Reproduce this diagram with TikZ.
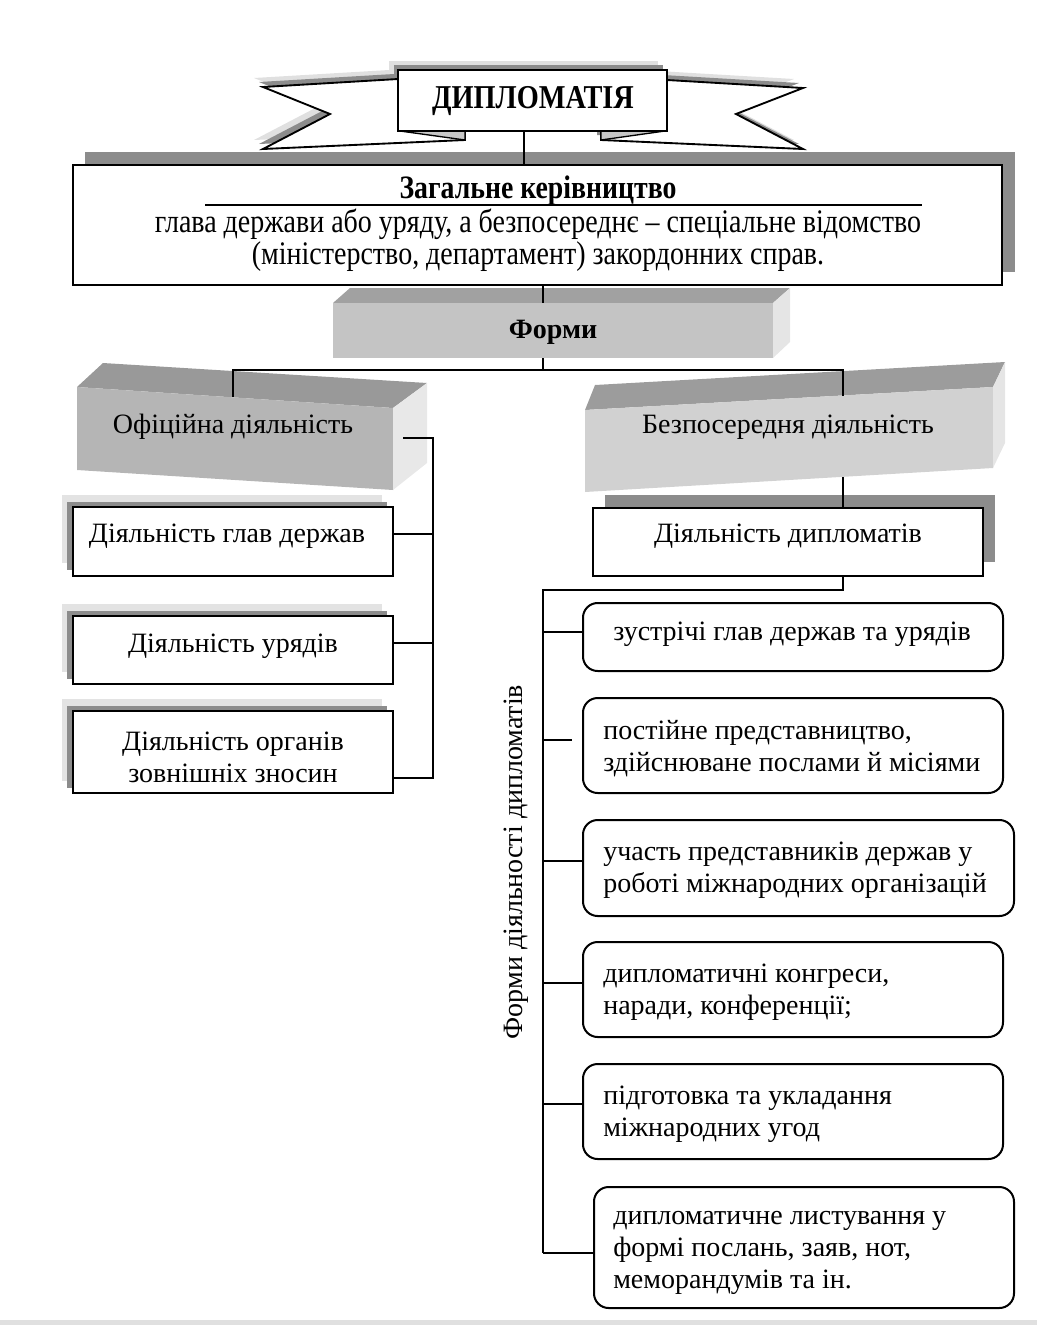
\documentclass[tikz,border=0pt]{standalone}
\usepackage{fontspec}
\setmainfont{Liberation Serif}
\newfontfamily\narrowfont[FakeStretch=0.85]{Liberation Serif}
\usetikzlibrary{fit}
\begin{document}
\begin{tikzpicture}[x=0.75pt,y=-0.75pt,
  wbox/.style={draw, fill=white, line width=1.5pt, inner sep=0pt},
  rbox/.style={wbox, rounded corners=11pt},
  conn/.style={draw, line width=1.3pt},
  txt/.style={font=\fontsize{21}{24}\selectfont, inner sep=0pt},
  ltxt/.style={txt, align=left, anchor=west},
  ctxt/.style={txt, align=center},
  shdark/.style={fill=black!45},
  shlight/.style={fill=black!11},
  face/.style={inner sep=0pt},
]
\useasboundingbox (0,0) rectangle (1037,1325);
\fill[black!12] (0,1320) rectangle (1037,1325);

% ---------- banner ----------
\foreach \dx/\dy/\col in {-9/-9/black!12, -4/-5/black!45} {
  \fill[\col, shift={(\dx,\dy)}] (398,79) -- (263,87) -- (330,114) -- (263,149) -- (465,140) -- (465,131) -- (398,131) -- cycle;
  \fill[\col, shift={(\dx,\dy)}] (667,80) -- (803,88) -- (736,114) -- (803,149) -- (601,140) -- (601,131) -- (667,131) -- cycle;
  \fill[\col, shift={(\dx,\dy)}] (398,70) rectangle (667,131);
}
\draw[fill=white, line width=1.4pt, line join=miter] (398,79) -- (263,87) -- (330,114) -- (263,149) -- (465,140) -- (465,131) -- (398,131) -- cycle;
\draw[fill=white, line width=1.4pt, line join=miter] (667,80) -- (803,88) -- (736,114) -- (803,149) -- (601,140) -- (601,131) -- (667,131) -- cycle;
\draw[fill=black!22, line width=1pt] (400,131) -- (465,131) -- (465,140) -- cycle;
\draw[fill=black!22, line width=1pt] (665,131) -- (601,131) -- (601,140) -- cycle;
\node[wbox, fit={(398,70)(667,131)}] (banner) {};
\node[txt, font=\narrowfont\bfseries\fontsize{25}{28}\selectfont] (bannert) at (533,101) {ДИПЛОМАТІЯ};

% ---------- main box ----------
\fill[shdark] (85,152) rectangle (1015,272);
\node[wbox, fit={(73,165)(1002,285)}] (main) {};
\node[txt, font=\narrowfont\bfseries\fontsize{24.5}{28}\selectfont] (mt1) at (538,191) {Загальне керівництво};
\draw[line width=1.3pt] (205,205) -- (922,205);
\node[ctxt, font=\narrowfont\fontsize{24.7}{24}\selectfont] (mt2) at (538,240) {глава держави або уряду, а безпосереднє – спеціальне відомство\\(міністерство, департамент) закордонних справ.};
\draw[conn] ([xshift=-6.4pt]banner.south) -- ([xshift=-6.4pt]banner.south |- main.north);

% ---------- Форми ----------
\fill[black!37] (333,303) -- (350,288) -- (790,288) -- (773,303) -- cycle;
\fill[black!10] (773,303) -- (790,288) -- (790,342) -- (773,358) -- cycle;
\node[face, fill=black!23, fit={(333,303)(773,358)}] (formy) {};
\node[txt, font=\bfseries\fontsize{21}{24}\selectfont] (formyt) at (553,332) {Форми};
\coordinate (cx) at (543,0);
\draw[conn] (main.south -| cx) -- (formy.north -| cx);

% ---------- Офіційна діяльність ----------
\fill[black!40] (77,387) -- (103,363) -- (427,383) -- (393,408) -- cycle;
\fill[black!29] (77,387) -- (393,408) -- (393,490) -- (77,470) -- cycle;
\fill[black!9] (393,408) -- (427,383) -- (427,463) -- (393,490) -- cycle;
\node[txt] (offt) at (233,427) {Офіційна діяльність};

% ---------- Безпосередня діяльність ----------
\fill[black!39] (585,410) -- (595,385) -- (1005,362) -- (993,387) -- cycle;
\fill[black!18] (585,410) -- (993,387) -- (993,468) -- (585,492) -- cycle;
\fill[black!10] (993,387) -- (1005,362) -- (1005,443) -- (993,468) -- cycle;
\node[txt] (bezt) at (788,427) {Безпосередня діяльність};

\coordinate (hj) at (543,370);
\coordinate (offin) at (233,397);
\coordinate (bezin) at (843,396);
\draw[conn] (formy.south -| cx) -- (hj);
\draw[conn] (offin) |- (hj) -| (bezin);

% ---------- left boxes ----------
\fill[shlight] (62,495) rectangle (382,563);
\fill[shdark] (67,502) rectangle (387,570);
\node[wbox, fit={(73,507)(393,576)}] (b1) {};
\node[txt] (b1t) at (227,536) {Діяльність глав держав};

\fill[shlight] (62,604) rectangle (382,672);
\fill[shdark] (67,611) rectangle (387,679);
\node[wbox, fit={(73,616)(393,684)}] (b2) {};
\node[txt] (b2t) at (233,646) {Діяльність урядів};

\fill[shlight] (62,699) rectangle (382,781);
\fill[shdark] (67,706) rectangle (387,788);
\node[wbox, fit={(73,711)(393,793)}] (b3) {};
\node[ctxt] (b3t) at (233,757) {Діяльність органів\\зовнішніх зносин};

\coordinate (offout) at (403,438);
\coordinate (lb1) at (433,534);
\coordinate (lb2) at (433,643);
\coordinate (lb3) at (433,778);
\draw[conn] (offout) -| (lb3) -- (lb3 -| b3.east);
\draw[conn] (lb1) -- (lb1 -| b1.east);
\draw[conn] (lb2) -- (lb2 -| b2.east);

% ---------- Діяльність дипломатів ----------
\fill[shdark] (605,495) rectangle (995,562);
\node[wbox, fit={(593,508)(983,576)}] (dipl) {};
\node[txt] (diplt) at (788,536) {Діяльність дипломатів};
\coordinate (bezout) at (843,477);
\draw[conn] (bezout) -- (bezout |- dipl.north);

% ---------- rounded boxes ----------
\node[rbox, fit={(583,603)(1003,671)}] (r1) {};
\node[ltxt] (r1t) at (613,634) {зустрічі глав держав та урядів};
\node[rbox, fit={(583,698)(1003,793)}] (r2) {};
\node[ltxt] (r2t) at (603,749) {постійне представництво,\\здійснюване послами й місіями};
\node[rbox, fit={(583,820)(1014,916)}] (r3) {};
\node[ltxt] (r3t) at (603,870) {участь представників держав у\\роботі міжнародних організацій};
\node[rbox, fit={(583,942)(1003,1037)}] (r4) {};
\node[ltxt] (r4t) at (603,992) {дипломатичні конгреси,\\наради, конференції;};
\node[rbox, fit={(583,1064)(1003,1159)}] (r5) {};
\node[ltxt] (r5t) at (603,1114) {підготовка та укладання\\міжнародних угод};
\node[rbox, fit={(594,1187)(1014,1308)}] (r6) {};
\node[ltxt] (r6t) at (613,1253) {дипломатичне листування у\\формі послань, заяв, нот,\\меморандумів та ін.};

\coordinate (rbus0) at (543,590);
\coordinate (rb1) at (543,632);
\coordinate (rb2) at (543,740);
\coordinate (rb2e) at (572,740);
\coordinate (rb3) at (543,861);
\coordinate (rb4) at (543,983);
\coordinate (rb5) at (543,1104);
\coordinate (rb6) at (543,1253);
\draw[conn] (dipl.south -| bezout) |- (rbus0) -- (rb6);
\draw[conn] (rb1) -- (rb1 -| r1.west);
\draw[conn] (rb2) -- (rb2e);
\draw[conn] (rb3) -- (rb3 -| r3.west);
\draw[conn] (rb4) -- (rb4 -| r4.west);
\draw[conn] (rb5) -- (rb5 -| r5.west);
\draw[conn] (rb6) -- (rb6 -| r6.west);

\node[txt, rotate=90] (vert) at (516,862) {Форми діяльності дипломатів};
\end{tikzpicture}
\end{document}
